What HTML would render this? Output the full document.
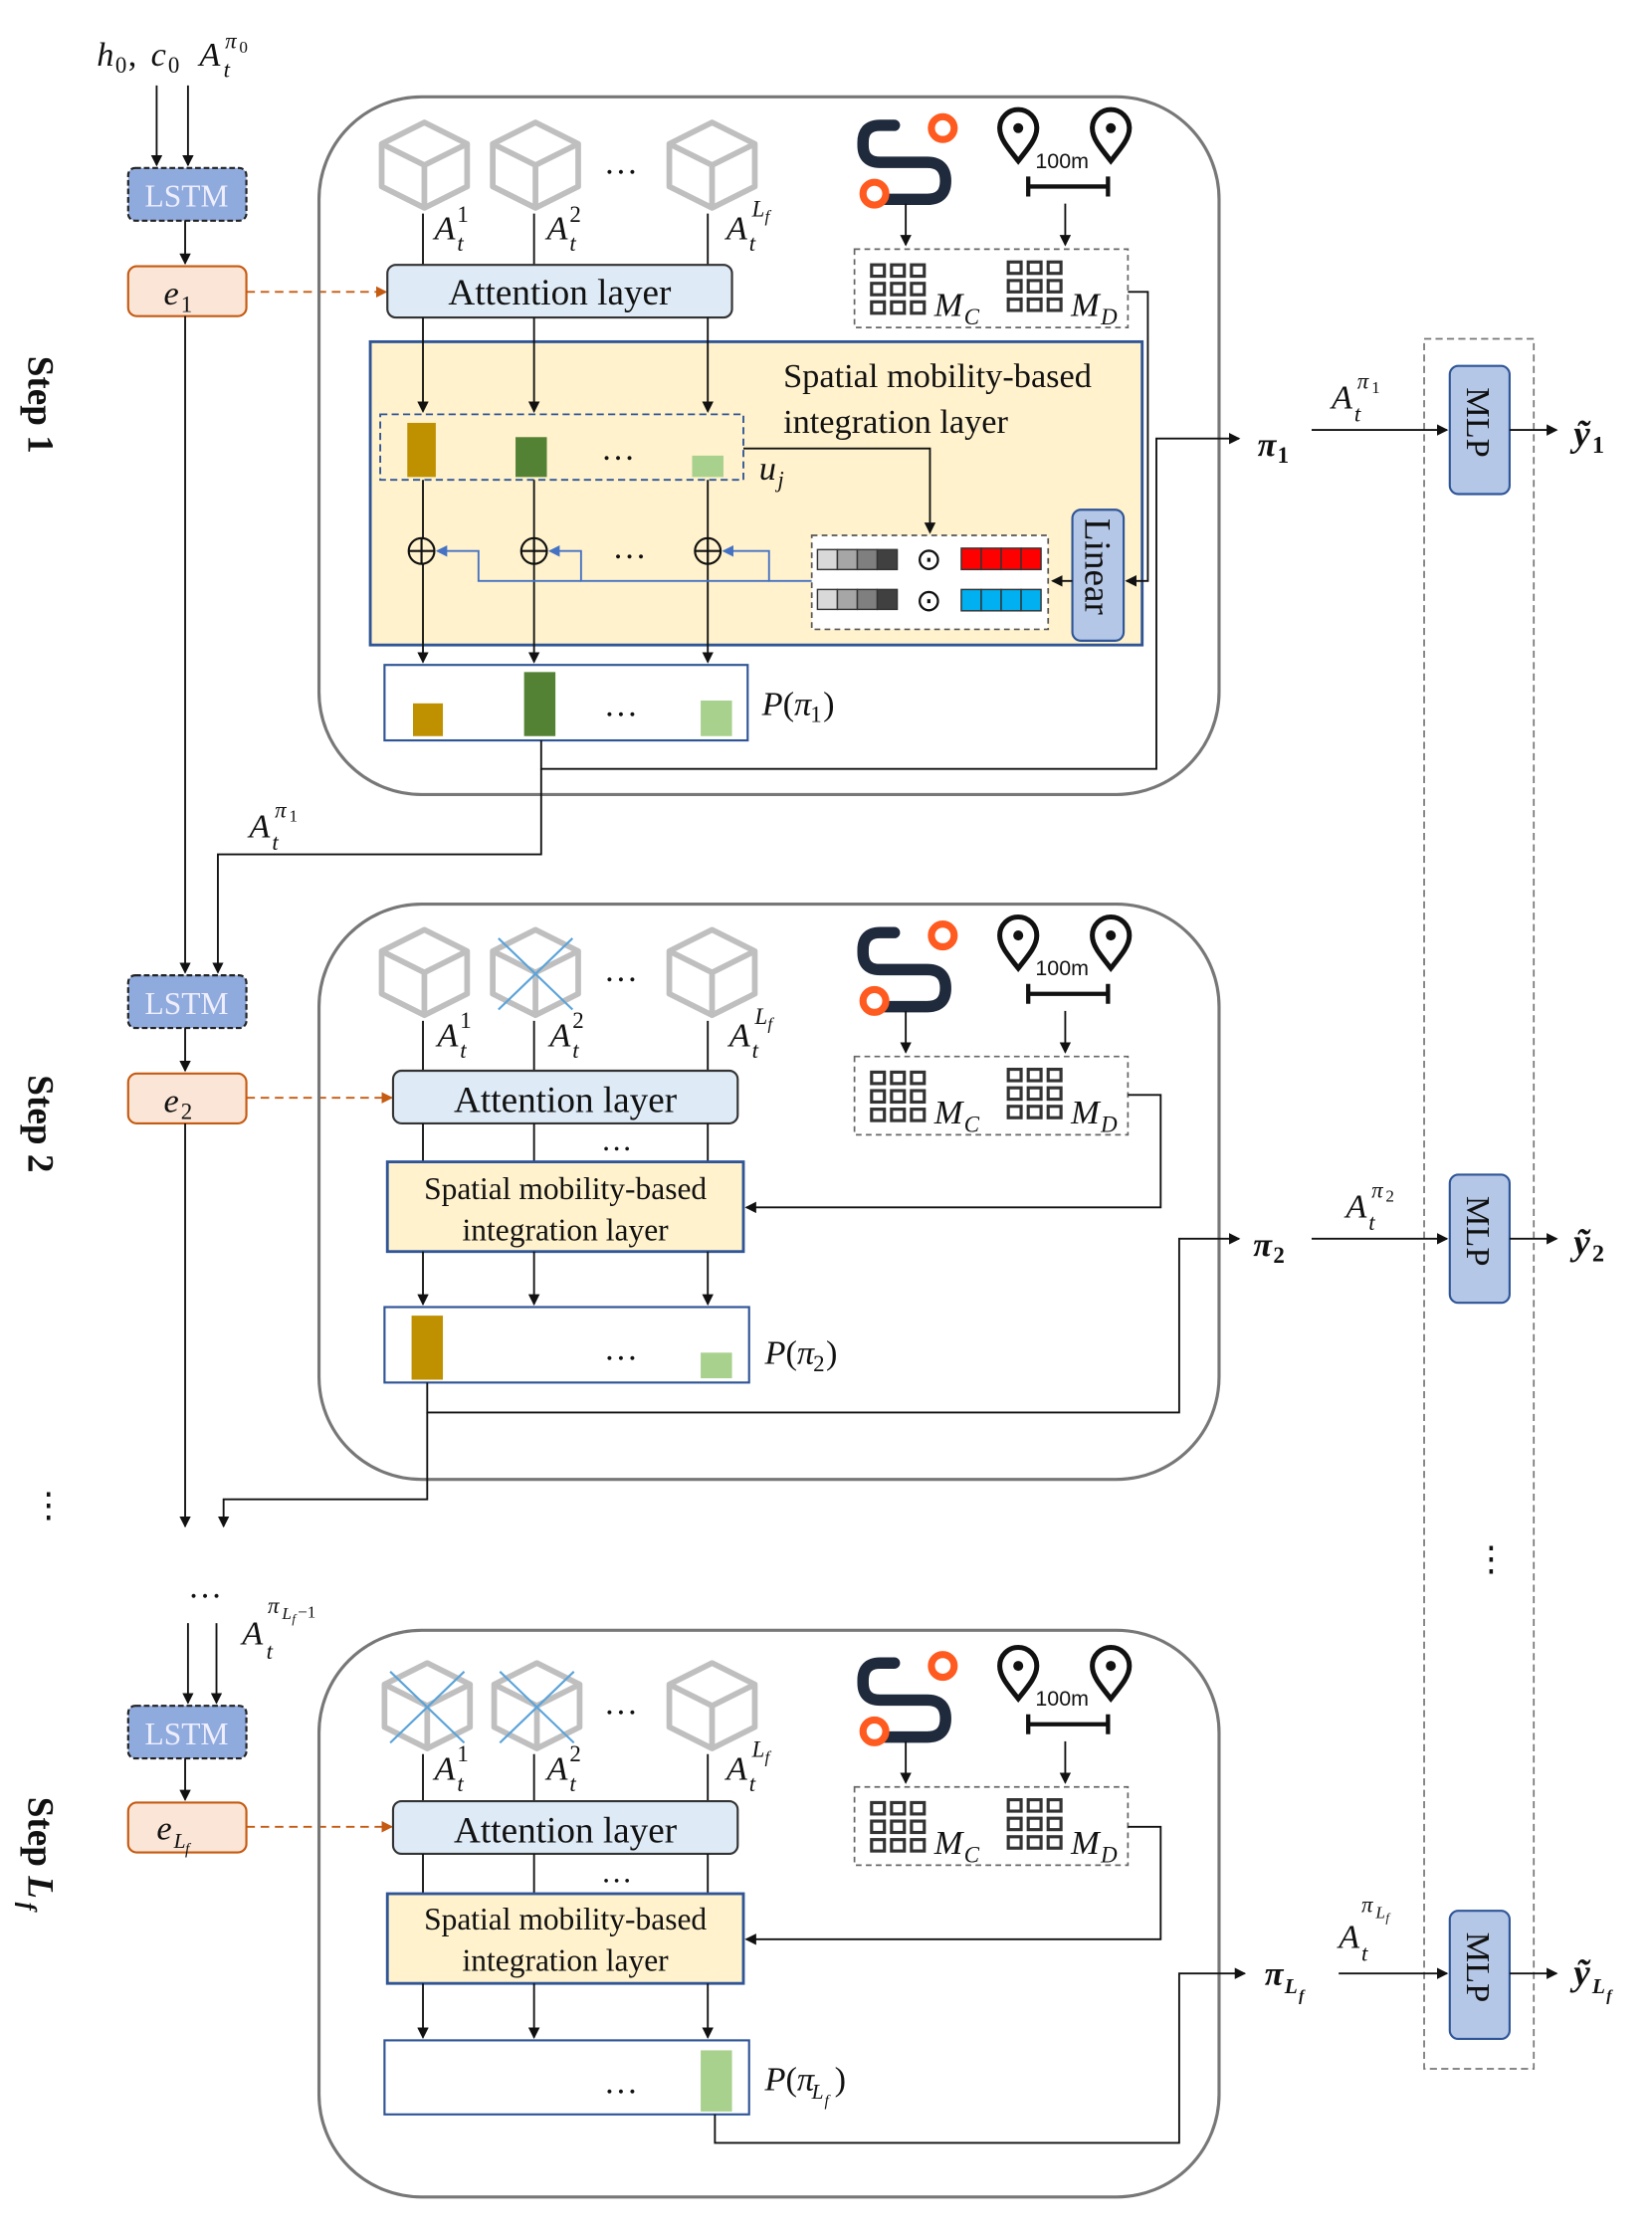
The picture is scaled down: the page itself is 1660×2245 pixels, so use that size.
<!DOCTYPE html>
<html><head><meta charset="utf-8"><style>
html,body{margin:0;padding:0;background:#fff}
svg{display:block}
text{font-family:"Liberation Serif",serif;fill:#111}
.it{font-style:italic}
.b{font-weight:bold}
</style></head><body>
<svg width="1660" height="2245" viewBox="0 0 1160 1569" preserveAspectRatio="none" xmlns="http://www.w3.org/2000/svg">
<defs>
<marker id="ar" markerWidth="8" markerHeight="8" refX="7" refY="4" orient="auto" markerUnits="userSpaceOnUse"><path d="M0,0 L8,4 L0,8 z" fill="#111"/></marker>
<marker id="ab" markerWidth="8" markerHeight="8" refX="7" refY="4" orient="auto" markerUnits="userSpaceOnUse"><path d="M0,0 L8,4 L0,8 z" fill="#4472c4"/></marker>
<marker id="ao" markerWidth="8" markerHeight="8" refX="7" refY="4" orient="auto" markerUnits="userSpaceOnUse"><path d="M0,0 L8,4 L0,8 z" fill="#c55a11"/></marker>
<g id="cube" fill="none" stroke="#bfbfbf" stroke-width="4" stroke-linejoin="round">
<polygon points="0,-30 30,-15 30,15 0,30 -30,15 -30,-15"/>
<path d="M-30,-15 L0,0 L30,-15 M0,0 L0,30"/>
</g>
<g id="cross" stroke="#5ba3d9" stroke-width="1.5"><path d="M-26,-24 L26,26 M26,-24 L-26,26"/></g>
<g id="grid" fill="none" stroke="#333" stroke-width="2.2">
<rect x="0" y="0" width="9" height="8"/><rect x="14" y="0" width="9" height="8"/><rect x="28" y="0" width="9" height="8"/>
<rect x="0" y="13" width="9" height="8"/><rect x="14" y="13" width="9" height="8"/><rect x="28" y="13" width="9" height="8"/>
<rect x="0" y="26" width="9" height="8"/><rect x="14" y="26" width="9" height="8"/><rect x="28" y="26" width="9" height="8"/>
</g>
<g id="route">
<path d="M22,0 L12,0 Q0,0 0,12 L0,14 Q0,26 12,26 L45,26 Q58,26 58,39 Q58,52 45,52 L12,52" fill="none" stroke="#1f2a3c" stroke-width="8" stroke-linecap="round"/>
<circle cx="56" cy="2" r="8" fill="#fff" stroke="#ff5a1f" stroke-width="5"/>
<circle cx="8" cy="48" r="8" fill="#fff" stroke="#ff5a1f" stroke-width="5"/>
</g>
<g id="pin">
<path d="M0,18 C-8,8 -13,2 -13,-5 A13,13 0 1 1 13,-5 C13,2 8,8 0,18 Z" fill="#fff" stroke="#111" stroke-width="3.5"/>
<circle cx="0" cy="-5" r="3.5" fill="#111"/>
</g>
<g id="icons">
<use href="#route" x="606" y="88"/>
<use href="#pin" x="715" y="95"/>
<use href="#pin" x="780" y="95"/>
<text x="727" y="118" style="font-family:'Liberation Sans',sans-serif;font-size:15px">100m</text>
<path d="M722,131 L778,131 M722,124 L722,138 M778,124 L778,138" stroke="#111" stroke-width="3"/>
<path d="M636,143 L636,172" stroke="#111" stroke-width="1.3" marker-end="url(#ar)"/>
<path d="M748,143 L748,172" stroke="#111" stroke-width="1.3" marker-end="url(#ar)"/>
<rect x="600" y="175" width="192" height="55" fill="#fff" stroke="#666" stroke-width="1.2" stroke-dasharray="4,3"/>
<use href="#grid" x="612" y="186"/>
<use href="#grid" x="708" y="184"/>
<text x="656" y="222" class="it" font-size="24">M</text><text x="677" y="228" class="it" font-size="16">C</text>
<text x="752" y="222" class="it" font-size="24">M</text><text x="773" y="228" class="it" font-size="16">D</text>
</g>
</defs>

<!-- top input -->
<text x="68" y="46" class="it" font-size="24">h</text><text x="81" y="51" font-size="16">0</text>
<text x="90" y="46" font-size="24">,</text>
<text x="106" y="46" class="it" font-size="24">c</text><text x="118" y="51" font-size="16">0</text>
<text x="140" y="46" class="it" font-size="24">A</text>
<text x="157" y="54" class="it" font-size="16">t</text>
<text x="158" y="34" class="it" font-size="16">π</text><text x="168" y="37" font-size="12">0</text>
<path d="M110,60 L110,116" stroke="#111" stroke-width="1.3" marker-end="url(#ar)"/>
<path d="M132,60 L132,116" stroke="#111" stroke-width="1.3" marker-end="url(#ar)"/>

<!-- LSTM / e boxes -->
<rect x="90" y="118" width="83" height="37" rx="5" fill="#8faadc" stroke="#222" stroke-width="1.5" stroke-dasharray="4,2"/>
<text x="131" y="145" font-size="22" text-anchor="middle" style="fill:#eef">LSTM</text>
<path d="M130,155 L130,185" stroke="#111" stroke-width="1.3" marker-end="url(#ar)"/>
<rect x="90" y="187" width="83" height="35" rx="6" fill="#fbe5d6" stroke="#c55a11" stroke-width="1.5"/>
<text x="115" y="214" class="it" font-size="24">e</text><text x="127" y="219" font-size="16">1</text>
<path d="M173,205 L271,205" stroke="#c55a11" stroke-width="1.3" stroke-dasharray="6,4" marker-end="url(#ao)"/>
<path d="M130,222 L130,683" stroke="#111" stroke-width="1.3" marker-end="url(#ar)"/>

<rect x="90" y="685" width="83" height="37" rx="5" fill="#8faadc" stroke="#222" stroke-width="1.5" stroke-dasharray="4,2"/>
<text x="131" y="712" font-size="22" text-anchor="middle" style="fill:#eef">LSTM</text>
<path d="M130,722 L130,752" stroke="#111" stroke-width="1.3" marker-end="url(#ar)"/>
<rect x="90" y="754" width="83" height="35" rx="6" fill="#fbe5d6" stroke="#c55a11" stroke-width="1.5"/>
<text x="115" y="781" class="it" font-size="24">e</text><text x="127" y="786" font-size="16">2</text>
<path d="M173,771 L275,771" stroke="#c55a11" stroke-width="1.3" stroke-dasharray="6,4" marker-end="url(#ao)"/>
<path d="M130,789 L130,1072" stroke="#111" stroke-width="1.3" marker-end="url(#ar)"/>

<rect x="90" y="1198" width="83" height="37" rx="5" fill="#8faadc" stroke="#222" stroke-width="1.5" stroke-dasharray="4,2"/>
<text x="131" y="1225" font-size="22" text-anchor="middle" style="fill:#eef">LSTM</text>
<path d="M130,1235 L130,1264" stroke="#111" stroke-width="1.3" marker-end="url(#ar)"/>
<rect x="90" y="1266" width="83" height="35" rx="6" fill="#fbe5d6" stroke="#c55a11" stroke-width="1.5"/>
<text x="110" y="1292" class="it" font-size="24">e</text><text x="122" y="1298" class="it" font-size="15">L</text><text x="130" y="1302" class="it" font-size="11">f</text>
<path d="M173,1283 L275,1283" stroke="#c55a11" stroke-width="1.3" stroke-dasharray="6,4" marker-end="url(#ao)"/>

<text x="132" y="1122" font-size="24">…</text>
<text x="170" y="1155" class="it" font-size="24">A</text>
<text x="187" y="1165" class="it" font-size="16">t</text>
<text x="188" y="1133" class="it" font-size="16">π</text><text x="198" y="1137" class="it" font-size="12">L</text><text x="205" y="1140" class="it" font-size="9">f</text><text x="209" y="1136" font-size="12">−1</text>
<path d="M132,1140 L132,1196" stroke="#111" stroke-width="1.3" marker-end="url(#ar)"/>
<path d="M152,1140 L152,1196" stroke="#111" stroke-width="1.3" marker-end="url(#ar)"/>

<!-- Step labels -->
<text transform="translate(20,250) rotate(90)" font-size="26" class="b">Step  1</text>
<text transform="translate(20,755) rotate(90)" font-size="26" class="b">Step  2</text>
<text transform="translate(20,1262) rotate(90)" font-size="26" class="b">Step <tspan class="it">L</tspan></text>
<text transform="translate(14,1336) rotate(90)" font-size="17" class="b it">f</text>
<text x="22" y="1065" font-size="24">⋮</text>

<!-- ===== Panel 1 ===== -->
<rect x="224" y="68" width="632" height="490" rx="72" fill="none" stroke="#777" stroke-width="2.2"/>
<use href="#cube" x="298" y="116"/>
<use href="#cube" x="376" y="116"/>
<use href="#cube" x="500" y="116"/>
<text x="424" y="122" font-size="24">…</text>
<path d="M297,150 L297,186 M375,150 L375,186 M497,150 L497,186" stroke="#111" stroke-width="1.3"/>
<text x="305" y="168" class="it" font-size="24">A</text><text x="321" y="176" class="it" font-size="16">t</text><text x="321" y="156" font-size="16">1</text>
<text x="384" y="168" class="it" font-size="24">A</text><text x="400" y="176" class="it" font-size="16">t</text><text x="400" y="156" font-size="16">2</text>
<text x="510" y="168" class="it" font-size="24">A</text><text x="526" y="176" class="it" font-size="16">t</text><text x="528" y="152" class="it" font-size="16">L</text><text x="537" y="156" class="it" font-size="12">f</text>
<use href="#icons"/>
<rect x="272" y="186" width="242" height="37" rx="6" fill="#deebf7" stroke="#333" stroke-width="1.5"/>
<text x="393" y="214" font-size="26" text-anchor="middle">Attention layer</text>

<rect x="260" y="240" width="542" height="213" fill="#fff2cc" stroke="#2f5597" stroke-width="2"/>
<text x="550" y="272" font-size="24">Spatial mobility-based</text>
<text x="550" y="304" font-size="24">integration layer</text>
<path d="M297,223 L297,289" stroke="#111" stroke-width="1.3" marker-end="url(#ar)"/>
<path d="M375,223 L375,289" stroke="#111" stroke-width="1.3" marker-end="url(#ar)"/>
<path d="M497,223 L497,289" stroke="#111" stroke-width="1.3" marker-end="url(#ar)"/>
<rect x="267" y="291" width="255" height="46" fill="none" stroke="#2f5597" stroke-width="1.3" stroke-dasharray="5,3"/>
<rect x="286" y="297" width="20" height="38" fill="#bf9000"/>
<rect x="362" y="307" width="22" height="28" fill="#548235"/>
<rect x="486" y="320" width="22" height="15" fill="#a9d18e"/>
<text x="422" y="323" font-size="24">…</text>
<text x="533" y="337" class="it" font-size="24">u</text><text x="546" y="342" class="it" font-size="16">j</text>
<path d="M522,315 L653,315 L653,374" fill="none" stroke="#111" stroke-width="1.3" marker-end="url(#ar)"/>
<path d="M297,337 L297,465" stroke="#111" stroke-width="1.3" marker-end="url(#ar)"/>
<path d="M375,337 L375,465" stroke="#111" stroke-width="1.3" marker-end="url(#ar)"/>
<path d="M497,337 L497,465" stroke="#111" stroke-width="1.3" marker-end="url(#ar)"/>
<g fill="#fff2cc" stroke="#111" stroke-width="1.5">
<circle cx="296" cy="387" r="9"/><path d="M287,387 L305,387 M296,378 L296,396"/>
<circle cx="375" cy="387" r="9"/><path d="M366,387 L384,387 M375,378 L375,396"/>
<circle cx="497" cy="387" r="9"/><path d="M488,387 L506,387 M497,378 L497,396"/>
</g>
<text x="430" y="392" font-size="24">…</text>
<g fill="none" stroke="#4472c4" stroke-width="1.3">
<path d="M570,408 L540,408 L540,387 L508,387" marker-end="url(#ab)"/>
<path d="M540,408 L408,408 L408,387 L386,387" marker-end="url(#ab)"/>
<path d="M408,408 L336,408 L336,387 L307,387" marker-end="url(#ab)"/>
</g>
<rect x="570" y="376" width="166" height="66" fill="#fff" stroke="#555" stroke-width="1.2" stroke-dasharray="4,3"/>
<g stroke="#333" stroke-width="1">
<rect x="574" y="386" width="14" height="14" fill="#d9d9d9"/><rect x="588" y="386" width="14" height="14" fill="#a6a6a6"/><rect x="602" y="386" width="14" height="14" fill="#7f7f7f"/><rect x="616" y="386" width="14" height="14" fill="#404040"/>
<rect x="574" y="414" width="14" height="14" fill="#d9d9d9"/><rect x="588" y="414" width="14" height="14" fill="#a6a6a6"/><rect x="602" y="414" width="14" height="14" fill="#7f7f7f"/><rect x="616" y="414" width="14" height="14" fill="#404040"/>
<rect x="675" y="385" width="14" height="15" fill="#ff0000"/><rect x="689" y="385" width="14" height="15" fill="#ff0000"/><rect x="703" y="385" width="14" height="15" fill="#ff0000"/><rect x="717" y="385" width="14" height="15" fill="#ff0000"/>
<rect x="675" y="414" width="14" height="15" fill="#00b0f0"/><rect x="689" y="414" width="14" height="15" fill="#00b0f0"/><rect x="703" y="414" width="14" height="15" fill="#00b0f0"/><rect x="717" y="414" width="14" height="15" fill="#00b0f0"/>
</g>
<text x="643" y="400" font-size="22">⊙</text>
<text x="643" y="429" font-size="22">⊙</text>
<rect x="753" y="358" width="36" height="92" rx="6" fill="#b4c7e7" stroke="#2f5597" stroke-width="1.5"/>
<text transform="translate(762,364) rotate(90)" font-size="26">Linear</text>
<path d="M753,408 L739,408" stroke="#111" stroke-width="1.3" marker-end="url(#ar)"/>
<path d="M792,205 L806,205 L806,408 L791,408" fill="none" stroke="#111" stroke-width="1.3" marker-end="url(#ar)"/>

<rect x="270" y="467" width="255" height="53" fill="#fff" stroke="#2f5597" stroke-width="1.5"/>
<rect x="290" y="494" width="21" height="23" fill="#bf9000"/>
<rect x="368" y="472" width="22" height="45" fill="#548235"/>
<rect x="492" y="492" width="22" height="25" fill="#a9d18e"/>
<text x="424" y="503" font-size="24">…</text>
<text x="535" y="502" font-size="24"><tspan class="it">P</tspan>(<tspan class="it">π</tspan></text><text x="569" y="507" font-size="16">1</text><text x="578" y="502" font-size="24">)</text>
<path d="M380,520 L380,540 L812,540 L812,308 L870,308" fill="none" stroke="#111" stroke-width="1.3" marker-end="url(#ar)"/>
<path d="M380,540 L380,600 L153,600 L153,683" fill="none" stroke="#111" stroke-width="1.3" marker-end="url(#ar)"/>
<text x="175" y="588" class="it" font-size="24">A</text><text x="191" y="597" class="it" font-size="16">t</text><text x="193" y="574" class="it" font-size="16">π</text><text x="203" y="577" font-size="12">1</text>

<text x="883" y="320" class="b it" font-size="24">π</text><text x="897" y="325" class="b" font-size="16">1</text>

<!-- ===== Panel 2 ===== -->
<rect x="224" y="635" width="632" height="404" rx="72" fill="none" stroke="#777" stroke-width="2.2"/>
<g transform="translate(0,567)"><use href="#icons"/></g>
<use href="#cube" x="298" y="683"/>
<use href="#cube" x="376" y="683"/>
<use href="#cross" x="376" y="683"/>
<use href="#cube" x="500" y="683"/>
<text x="424" y="689" font-size="24">…</text>
<path d="M297,717 L297,752 M375,717 L375,752 M497,717 L497,752" stroke="#111" stroke-width="1.3"/>
<text x="307" y="735" class="it" font-size="24">A</text><text x="323" y="743" class="it" font-size="16">t</text><text x="323" y="722" font-size="16">1</text>
<text x="386" y="735" class="it" font-size="24">A</text><text x="402" y="743" class="it" font-size="16">t</text><text x="402" y="722" font-size="16">2</text>
<text x="512" y="735" class="it" font-size="24">A</text><text x="528" y="743" class="it" font-size="16">t</text><text x="530" y="719" class="it" font-size="16">L</text><text x="539" y="723" class="it" font-size="12">f</text>
<rect x="276" y="752" width="242" height="37" rx="6" fill="#deebf7" stroke="#333" stroke-width="1.5"/>
<text x="397" y="781" font-size="26" text-anchor="middle">Attention layer</text>
<path d="M297,789 L297,816 M375,789 L375,816 M497,789 L497,816" stroke="#111" stroke-width="1.3"/>
<text x="422" y="808" font-size="22">…</text>
<rect x="272" y="816" width="250" height="63" fill="#fff2cc" stroke="#2f5597" stroke-width="2"/>
<text x="397" y="842" font-size="22" text-anchor="middle">Spatial mobility-based</text>
<text x="397" y="871" font-size="22" text-anchor="middle">integration layer</text>
<path d="M792,769 L815,769 L815,848 L524,848" fill="none" stroke="#111" stroke-width="1.3" marker-end="url(#ar)"/>
<path d="M297,879 L297,916" stroke="#111" stroke-width="1.3" marker-end="url(#ar)"/>
<path d="M375,879 L375,916" stroke="#111" stroke-width="1.3" marker-end="url(#ar)"/>
<path d="M497,879 L497,916" stroke="#111" stroke-width="1.3" marker-end="url(#ar)"/>
<rect x="270" y="918" width="256" height="53" fill="#fff" stroke="#2f5597" stroke-width="1.5"/>
<rect x="289" y="924" width="22" height="45" fill="#bf9000"/>
<rect x="492" y="950" width="22" height="18" fill="#a9d18e"/>
<text x="424" y="955" font-size="24">…</text>
<text x="537" y="958" font-size="24"><tspan class="it">P</tspan>(<tspan class="it">π</tspan></text><text x="571" y="963" font-size="16">2</text><text x="580" y="958" font-size="24">)</text>
<path d="M300,971 L300,992 L828,992 L828,870 L870,870" fill="none" stroke="#111" stroke-width="1.3" marker-end="url(#ar)"/>
<path d="M300,992 L300,1053 L157,1053 L157,1072" fill="none" stroke="#111" stroke-width="1.3" marker-end="url(#ar)"/>
<text x="880" y="882" class="b it" font-size="24">π</text><text x="894" y="887" class="b" font-size="16">2</text>

<!-- ===== Panel 3 ===== -->
<rect x="224" y="1145" width="632" height="398" rx="72" fill="none" stroke="#777" stroke-width="2.2"/>
<g transform="translate(0,1080)"><use href="#icons"/></g>
<use href="#cube" x="300" y="1198"/>
<use href="#cross" x="300" y="1198"/>
<use href="#cube" x="377" y="1198"/>
<use href="#cross" x="377" y="1198"/>
<use href="#cube" x="500" y="1198"/>
<text x="424" y="1204" font-size="24">…</text>
<path d="M297,1232 L297,1265 M375,1232 L375,1265 M497,1232 L497,1265" stroke="#111" stroke-width="1.3"/>
<text x="305" y="1250" class="it" font-size="24">A</text><text x="321" y="1258" class="it" font-size="16">t</text><text x="321" y="1237" font-size="16">1</text>
<text x="384" y="1250" class="it" font-size="24">A</text><text x="400" y="1258" class="it" font-size="16">t</text><text x="400" y="1237" font-size="16">2</text>
<text x="510" y="1250" class="it" font-size="24">A</text><text x="526" y="1258" class="it" font-size="16">t</text><text x="528" y="1234" class="it" font-size="16">L</text><text x="537" y="1238" class="it" font-size="12">f</text>
<rect x="276" y="1265" width="242" height="37" rx="6" fill="#deebf7" stroke="#333" stroke-width="1.5"/>
<text x="397" y="1294" font-size="26" text-anchor="middle">Attention layer</text>
<path d="M297,1302 L297,1330 M375,1302 L375,1330 M497,1302 L497,1330" stroke="#111" stroke-width="1.3"/>
<text x="422" y="1322" font-size="22">…</text>
<rect x="272" y="1330" width="250" height="63" fill="#fff2cc" stroke="#2f5597" stroke-width="2"/>
<text x="397" y="1355" font-size="22" text-anchor="middle">Spatial mobility-based</text>
<text x="397" y="1384" font-size="22" text-anchor="middle">integration layer</text>
<path d="M792,1283 L815,1283 L815,1362 L524,1362" fill="none" stroke="#111" stroke-width="1.3" marker-end="url(#ar)"/>
<path d="M297,1393 L297,1431" stroke="#111" stroke-width="1.3" marker-end="url(#ar)"/>
<path d="M375,1393 L375,1431" stroke="#111" stroke-width="1.3" marker-end="url(#ar)"/>
<path d="M497,1393 L497,1431" stroke="#111" stroke-width="1.3" marker-end="url(#ar)"/>
<rect x="270" y="1433" width="256" height="52" fill="#fff" stroke="#2f5597" stroke-width="1.5"/>
<rect x="492" y="1440" width="22" height="43" fill="#a9d18e"/>
<text x="424" y="1470" font-size="24">…</text>
<text x="537" y="1468" font-size="24"><tspan class="it">P</tspan>(<tspan class="it">π</tspan></text><text x="570" y="1474" class="it" font-size="15">L</text><text x="579" y="1479" class="it" font-size="11">f</text><text x="586" y="1468" font-size="24">)</text>
<path d="M502,1485 L502,1505 L828,1505 L828,1386 L874,1386" fill="none" stroke="#111" stroke-width="1.3" marker-end="url(#ar)"/>
<text x="888" y="1394" class="b it" font-size="24">π</text><text x="902" y="1400" class="b it" font-size="15">L</text><text x="912" y="1405" class="b it" font-size="11">f</text>

<!-- right MLP column -->
<rect x="1000" y="238" width="77" height="1215" fill="none" stroke="#777" stroke-width="1.2" stroke-dasharray="5,3"/>
<rect x="1018" y="257" width="42" height="90" rx="6" fill="#b4c7e7" stroke="#2f5597" stroke-width="1.5"/>
<text transform="translate(1030,272) rotate(90)" font-size="24">MLP</text>
<rect x="1018" y="825" width="42" height="90" rx="6" fill="#b4c7e7" stroke="#2f5597" stroke-width="1.5"/>
<text transform="translate(1030,840) rotate(90)" font-size="24">MLP</text>
<rect x="1018" y="1342" width="42" height="90" rx="6" fill="#b4c7e7" stroke="#2f5597" stroke-width="1.5"/>
<text transform="translate(1030,1357) rotate(90)" font-size="24">MLP</text>
<path d="M921,302 L1016,302" stroke="#111" stroke-width="1.3" marker-end="url(#ar)"/>
<path d="M1060,302 L1093,302" stroke="#111" stroke-width="1.3" marker-end="url(#ar)"/>
<path d="M921,870 L1016,870" stroke="#111" stroke-width="1.3" marker-end="url(#ar)"/>
<path d="M1060,870 L1093,870" stroke="#111" stroke-width="1.3" marker-end="url(#ar)"/>
<path d="M940,1386 L1016,1386" stroke="#111" stroke-width="1.3" marker-end="url(#ar)"/>
<path d="M1060,1386 L1093,1386" stroke="#111" stroke-width="1.3" marker-end="url(#ar)"/>
<text x="935" y="287" class="it" font-size="24">A</text><text x="951" y="296" class="it" font-size="16">t</text><text x="953" y="273" class="it" font-size="16">π</text><text x="963" y="276" font-size="12">1</text>
<text x="945" y="855" class="it" font-size="24">A</text><text x="961" y="864" class="it" font-size="16">t</text><text x="963" y="841" class="it" font-size="16">π</text><text x="973" y="844" font-size="12">2</text>
<text x="940" y="1368" class="it" font-size="24">A</text><text x="956" y="1377" class="it" font-size="16">t</text><text x="956" y="1343" class="it" font-size="16">π</text><text x="966" y="1347" class="it" font-size="12">L</text><text x="973" y="1350" class="it" font-size="9">f</text>
<text x="1105" y="313" class="b it" font-size="26">ỹ</text><text x="1118" y="318" class="b" font-size="17">1</text>
<text x="1105" y="881" class="b it" font-size="26">ỹ</text><text x="1118" y="886" class="b" font-size="17">2</text>
<text x="1105" y="1394" class="b it" font-size="26">ỹ</text><text x="1118" y="1400" class="b it" font-size="15">L</text><text x="1128" y="1405" class="b it" font-size="11">f</text>
<text x="1035" y="1103" font-size="24">⋮</text>
</svg>
</body></html>
